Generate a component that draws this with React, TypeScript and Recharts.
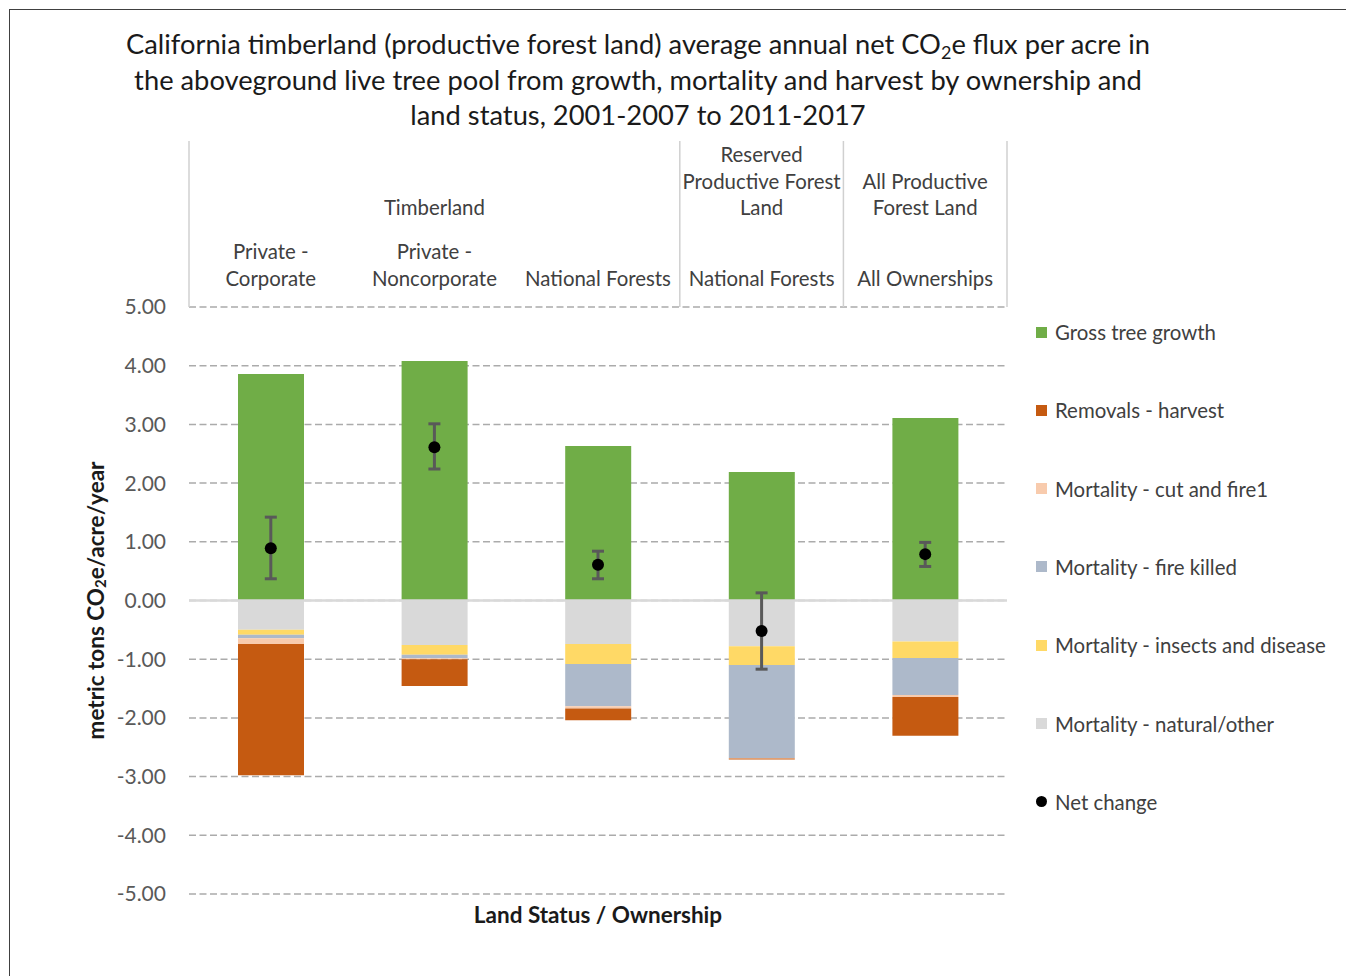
import React from 'react';
import {
  ComposedChart,
  Bar,
  Line,
  XAxis,
  YAxis,
  CartesianGrid,
  ReferenceLine,
  ErrorBar,
  Label,
} from 'recharts';

const FONT = 'Lato, "Open Sans", sans-serif';

// ---------- data ----------
const categoryKeys = ['pc', 'pn', 'nf', 'rnf', 'all'];
const ownershipLabels = [
  ['Private -', 'Corporate'],
  ['Private -', 'Noncorporate'],
  ['National Forests'],
  ['National Forests'],
  ['All Ownerships'],
];
const landStatusLabels = [
  ['Timberland'],
  ['Reserved', 'Productive Forest', 'Land'],
  ['All Productive', 'Forest Land'],
];
const landStatusSpans = [
  [0, 2],
  [3, 3],
  [4, 4],
];

const grossGrowth = [3.86, 4.08, 2.63, 2.19, 3.11];
const mortalityNatural = [-0.5, -0.76, -0.74, -0.78, -0.7];
const mortalityInsects = [-0.085, -0.165, -0.34, -0.32, -0.28];
const mortalityFire = [-0.057, -0.057, -0.72, -1.585, -0.63];
const mortalityCutFire = [-0.097, -0.02, -0.04, -0.005, -0.034];
const removalsHarvest = [-2.24, -0.455, -0.2, -0.02, -0.66];
const netChange = [0.89, 2.61, 0.61, -0.52, 0.79];
const netErrLow = [0.52, 0.37, 0.24, 0.65, 0.21];
const netErrHigh = [0.53, 0.4, 0.23, 0.65, 0.2];

const yTicks = [5, 4, 3, 2, 1, 0, -1, -2, -3, -4, -5];

const legendItems = [
  { name: 'Gross tree growth', color: '#70ad47', shape: 'square' },
  { name: 'Removals - harvest', color: '#c55a11', shape: 'square' },
  { name: 'Mortality - cut and fire1', color: '#f8cbad', shape: 'square' },
  { name: 'Mortality - fire killed', color: '#adb9ca', shape: 'square' },
  { name: 'Mortality - insects and disease', color: '#ffd966', shape: 'square' },
  { name: 'Mortality - natural/other', color: '#d9d9d9', shape: 'square' },
  { name: 'Net change', color: '#000000', shape: 'circle' },
];

const data = categoryKeys.map((k, i) => ({
  key: k,
  growth: grossGrowth[i],
  natural: mortalityNatural[i],
  insects: mortalityInsects[i],
  fire: mortalityFire[i],
  cutFire: mortalityCutFire[i],
  harvest: removalsHarvest[i],
  net: netChange[i],
  err: [netErrLow[i], netErrHigh[i]],
}));

// ---------- layout ----------
const W = 1346;
const H = 976;
const M = { top: 140, left: 60, right: 339, bottom: 40 };
const Y_AXIS_W = 129;
const TOP_AXIS_H = 167;
const BOTTOM_AXIS_H = 42;
const PLOT_LEFT = M.left + Y_AXIS_W;
const PLOT_W = W - PLOT_LEFT - M.right;
const HEADER_BOTTOM = M.top + TOP_AXIS_H;
const PLOT_BOTTOM = H - M.bottom - BOTTOM_AXIS_H;
const BAND = PLOT_W / categoryKeys.length;
const LINE_H = 27;
const HDR_FS = 20.4;

const HeaderTick = (props: any) => {
  const { x, index } = props;
  const els: React.ReactNode[] = [];
  const own = ownershipLabels[index] || [];
  own.forEach((ln, i) => {
    const cy = HEADER_BOTTOM - 28 - (own.length - 1 - i) * LINE_H;
    els.push(
      <text key={'o' + i} x={x} y={cy + 7} textAnchor="middle" fontSize={HDR_FS} fill="#404040" fontFamily={FONT}>
        {ln}
      </text>
    );
  });
  landStatusSpans.forEach((span, g) => {
    if (span[0] === index) {
      const cx = x + ((span[1] - span[0]) * BAND) / 2;
      const lines = landStatusLabels[g];
      lines.forEach((ln, i) => {
        const cy = HEADER_BOTTOM - 99 - (lines.length - 1 - i) * 26.5;
        els.push(
          <text key={'g' + g + i} x={cx} y={cy + 7} textAnchor="middle" fontSize={HDR_FS} fill="#404040" fontFamily={FONT}>
            {ln}
          </text>
        );
      });
    }
    if (span[1] === index) {
      const lx = x + BAND / 2;
      els.push(<line key={'s' + g} x1={lx} x2={lx} y1={M.top + 1} y2={HEADER_BOTTOM} stroke="#d0d0d0" strokeWidth={1.5} />);
    }
  });
  if (index === 0) {
    const lx = x - BAND / 2;
    els.push(<line key="s-left" x1={lx} x2={lx} y1={M.top + 1} y2={HEADER_BOTTOM} stroke="#d0d0d0" strokeWidth={1.5} />);
  }
  return <g>{els}</g>;
};

const YLabel = (props: any) => {
  const vb = props.viewBox || { x: M.left, y: HEADER_BOTTOM, width: Y_AXIS_W, height: PLOT_BOTTOM - HEADER_BOTTOM };
  const cx = vb.x + 35;
  const cy = vb.y + vb.height / 2;
  return (
    <text
      x={cx}
      y={cy}
      transform={`rotate(-90, ${cx}, ${cy})`}
      textAnchor="middle"
      dominantBaseline="central"
      fontSize={22.5}
      fontWeight={700}
      fill="#1a1a1a"
      fontFamily={FONT}
    >
      metric tons CO
      <tspan fontSize={15} dy={5}>2</tspan>
      <tspan dy={-5}>e/acre/year</tspan>
    </text>
  );
};

const XLabel = (props: any) => {
  const vb = props.viewBox || { x: PLOT_LEFT, y: PLOT_BOTTOM, width: PLOT_W, height: BOTTOM_AXIS_H };
  return (
    <text
      x={vb.x + vb.width / 2}
      y={vb.y + 20}
      textAnchor="middle"
      dominantBaseline="central"
      fontSize={22.5}
      fontWeight={700}
      fill="#1a1a1a"
      fontFamily={FONT}
    >
      Land Status / Ownership
    </text>
  );
};

export default function App() {
  return (
    <div style={{ position: 'absolute', left: 0, top: 0, width: W, height: H, background: '#fff', fontFamily: FONT, overflow: 'hidden' }}>
      <div
        style={{
          position: 'absolute',
          left: 9,
          top: 9,
          width: 1400,
          height: 1000,
          borderTop: '1px solid #404040',
          borderLeft: '1px solid #404040',
        }}
      />
      <div
        style={{
          position: 'absolute',
          left: 38,
          top: 26,
          width: 1200,
          textAlign: 'center',
          fontSize: 27.3,
          lineHeight: '35.5px',
          color: '#1a1a1a',
        }}
      >
        California timberland (productive forest land) average annual net CO
        <span style={{ fontSize: 18, position: 'relative', top: 5, lineHeight: '0px', verticalAlign: 'baseline' }}>2</span>e flux per acre in
        <br />
        the aboveground live tree pool from growth, mortality and harvest by ownership and
        <br />
        land status, 2001-2007 to 2011-2017
      </div>
      <div style={{ position: 'absolute', left: 0, top: 0 }}>
        <ComposedChart width={W} height={H} data={data} margin={M} stackOffset="sign">
          <CartesianGrid vertical={false} stroke="#ababab" strokeDasharray="7 3.5" strokeWidth={1.5} />
          <XAxis
            dataKey="key"
            orientation="top"
            height={TOP_AXIS_H}
            axisLine={false}
            tickLine={false}
            interval={0}
            tick={<HeaderTick />}
          />
          <XAxis
            xAxisId="bottom"
            dataKey="key"
            orientation="bottom"
            height={BOTTOM_AXIS_H}
            axisLine={false}
            tickLine={false}
            tick={false}
          >
            <Label content={<XLabel />} />
          </XAxis>
          <YAxis
            domain={[-5, 5]}
            ticks={yTicks}
            width={Y_AXIS_W}
            axisLine={false}
            tickLine={false}
            tickMargin={17}
            tickFormatter={(v: number) => v.toFixed(2)}
            tick={{ fontSize: 21, fill: '#595959', fontFamily: FONT }}
            interval={0}
          >
            <Label content={<YLabel />} />
          </YAxis>
          <ReferenceLine y={0} stroke="#d9d9d9" strokeWidth={2.5} />
          <Bar dataKey="growth" stackId="s" fill="#70ad47" barSize={66} isAnimationActive={false} />
          <Bar dataKey="natural" stackId="s" fill="#d9d9d9" barSize={66} isAnimationActive={false} />
          <Bar dataKey="insects" stackId="s" fill="#ffd966" barSize={66} isAnimationActive={false} />
          <Bar dataKey="fire" stackId="s" fill="#adb9ca" barSize={66} isAnimationActive={false} />
          <Bar dataKey="cutFire" stackId="s" fill="#f8cbad" barSize={66} isAnimationActive={false} />
          <Bar dataKey="harvest" stackId="s" fill="#c55a11" barSize={66} isAnimationActive={false} />
          <Line
            dataKey="net"
            stroke="none"
            strokeWidth={0}
            dot={{ r: 6, fill: '#000', stroke: '#000', strokeWidth: 0 }}
            activeDot={false}
            isAnimationActive={false}
          >
            <ErrorBar dataKey="err" direction="y" width={6} strokeWidth={3} stroke="#595959" />
          </Line>
        </ComposedChart>
      </div>
      <div style={{ position: 'absolute', left: 1036, top: 0 }}>
        {legendItems.map((it, i) => (
          <div
            key={it.name}
            style={{
              position: 'absolute',
              left: 0,
              top: 332 + i * 78.3 - 12,
              height: 24,
              display: 'flex',
              alignItems: 'center',
              whiteSpace: 'nowrap',
              fontSize: 20.4,
              color: '#404040',
            }}
          >
            <span
              style={{
                display: 'inline-block',
                width: 11,
                height: 11,
                background: it.color,
                borderRadius: it.shape === 'circle' ? '50%' : 0,
                marginRight: 8,
              }}
            />
            {it.name}
          </div>
        ))}
      </div>
    </div>
  );
}
